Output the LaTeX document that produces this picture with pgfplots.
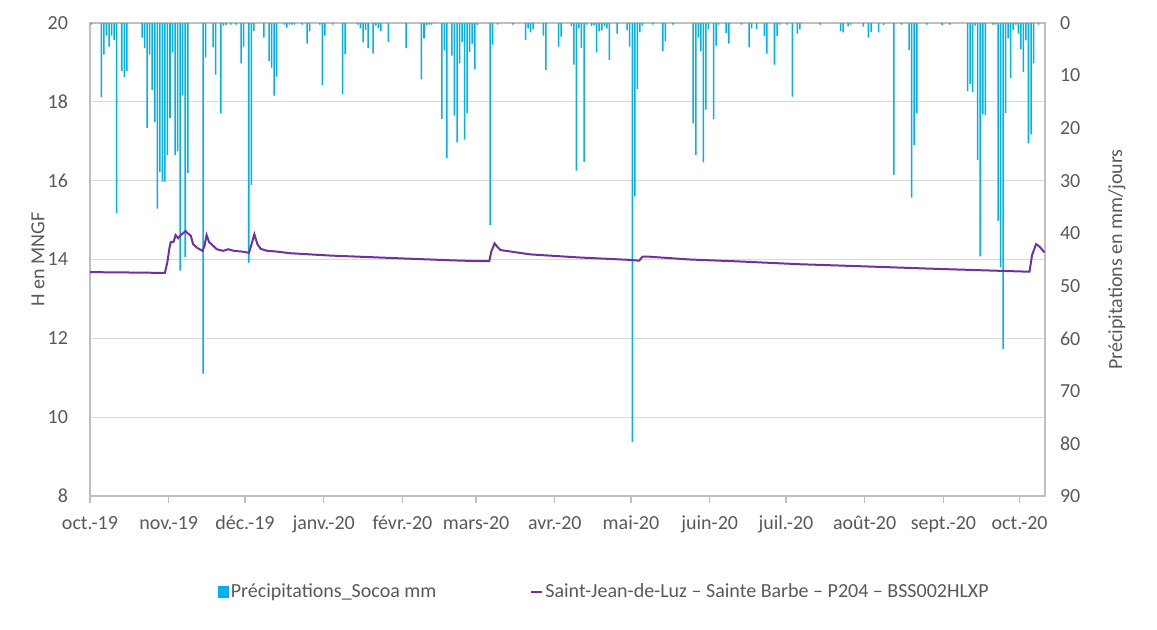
\documentclass[border=0pt]{standalone}
\usepackage{fontspec}
\setmainfont{Carlito}
\usepackage{pgfplots}
\usepackage{pgfplotstable}
\pgfplotsset{compat=1.18}
\definecolor{txt}{RGB}{89,89,89}
\definecolor{gridc}{RGB}{217,217,217}
\definecolor{axc}{RGB}{191,191,191}
\definecolor{barc}{RGB}{0,176,240}
\definecolor{linec}{RGB}{112,48,160}

\pgfplotstableread{
d p
0 0.3
4 14.1
5 6
6 2.4
7 4.5
8 2.4
9 3.2
10 36.2
12 9.1
13 10.3
14 9.1
20 2.8
21 4.8
22 20
23 6
24 12.7
25 18.8
26 35.3
27 28.3
28 30.2
29 30.2
30 25.1
31 18.1
32 5.6
33 25.1
34 24.4
35 47.1
36 13.7
37 44.5
38 28.5
44 66.7
45 6.6
48 4.6
49 9.8
51 17.2
52 0.5
53 0.4
55 0.3
57 0.3
59 7.7
60 4.5
62 45.6
63 30.8
64 1.5
68 2.8
70 7.2
71 8.5
72 13.8
73 10.2
76 0.3
77 0.9
78 0.3
79 0.3
80 0.3
83 0.3
85 3.9
86 1.6
90 0.3
91 11.8
92 2.4
95 0.3
99 13.6
100 5.9
105 0.3
106 1
107 3.7
108 1.3
109 4.8
111 5.8
112 0.5
113 1
114 1.6
117 3.6
124 4.8
130 10.7
131 2.9
132 0.4
133 0.3
134 0.3
138 18.3
139 5.2
140 25.7
142 6.2
143 17.6
144 22.7
145 7.7
146 3.6
147 22.2
148 17.2
149 5.5
150 3.9
151 8.8
152 0.4
157 38.4
158 4.1
160 0.3
166 0.3
171 3.2
172 1
173 1.8
174 1.2
178 2.4
179 8.9
184 4.5
185 2.6
189 0.6
190 7.9
191 28.1
192 1
193 4.8
194 26.4
195 0.3
197 0.6
198 0.4
199 5.6
200 1.6
201 1.4
202 0.6
203 1
204 7
207 2
211 1.4
212 4.5
213 79.7
214 33
215 12.6
216 1.8
217 0.5
221 0.3
225 5.3
226 3.5
229 0.3
237 19.1
238 25.1
239 2.8
240 5.3
241 26.5
242 16.5
243 1.2
245 18.3
246 4.3
247 0.3
250 1.9
251 3.9
256 0.3
259 4.6
260 1
262 1.2
265 2.5
266 5.8
269 7.9
270 2.5
271 0.3
274 0.3
276 14
278 2
279 1.2
287 0.3
295 1.5
296 1.8
298 0.6
299 0.3
304 0.7
306 2.8
307 1.7
310 1.8
312 0.4
316 28.9
319 0.3
322 5.1
323 33.2
324 23.2
325 17.2
329 0.3
335 0.4
338 0.3
345 12.9
346 11.6
347 13.2
348 0.5
349 26.1
350 44.4
351 17.4
352 17.5
355 0.3
356 0.3
357 37.6
358 46.5
359 62
360 17.1
361 2.9
362 10.5
363 1.3
364 0.3
365 2
366 5
367 9.3
368 3.3
369 22.9
370 21.2
371 7.7
373 0.3
}\precip

\pgfplotstableread{
d h
0 13.68
16 13.67
29.5 13.66
30.5 13.95
31.3 14.30
31.8 14.44
32.9 14.45
33.7 14.62
34.7 14.54
35.8 14.62
37.6 14.72
38.6 14.66
39.7 14.60
40.6 14.39
42.1 14.30
44.3 14.22
45.1 14.35
45.9 14.62
46.9 14.44
47.8 14.39
49.9 14.26
52.4 14.22
54.4 14.26
56.7 14.22
60.0 14.20
62.6 14.17
63.7 14.41
64.7 14.64
65.9 14.39
67.2 14.27
69.8 14.22
73.8 14.20
78.7 14.16
94.7 14.10
122 14.03
142 13.98
151.7 13.96
157.2 13.96
158 14.20
159.3 14.41
160.4 14.32
161.6 14.24
173.3 14.13
193 14.05
212.7 13.99
216.2 13.97
217.5 14.07
220.5 14.07
236.2 14.00
255.9 13.95
279.5 13.88
303 13.83
334.5 13.76
369.9 13.69
370.9 14.11
372.5 14.39
373.8 14.33
375.8 14.18
}\niveau

\begin{document}
\begin{tikzpicture}[font=\fontsize{10}{12}\selectfont, text=txt]
\path (-45pt,-66.5pt) rectangle (533.5pt,248pt);
% axis A: left scale, grid, x axis
\begin{axis}[
  scale only axis, width=477.5pt, height=236.5pt,
  xmin=0, xmax=376, ymin=8, ymax=20,
  ytick={8,10,...,20},
  xtick={0,31,61,92,123,152,183,213,244,274,305,336,366},
  xticklabels={oct.-19,nov.-19,déc.-19,janv.-20,févr.-20,mars-20,avr.-20,mai-20,juin-20,juil.-20,août-20,sept.-20,oct.-20},
  ymajorgrids, grid style={gridc, line width=0.6pt},
  axis line style={axc, line width=0.6pt},
  tick style={axc, line width=0.6pt},
  ytick style={draw=none},
  xtick pos=bottom, ytick pos=left,
  tick align=outside, major tick length=3.5pt,
  xticklabel style={text=txt, yshift=-3pt},
  yticklabel style={text=txt, xshift=-4pt},
  /pgf/number format/assume math mode=true,
  ylabel={H en MNGF},
  every axis y label/.style={at={(axis description cs:-0.0545,0.5)}, rotate=90, anchor=center, text=txt},
]
\end{axis}
% axis B: precipitation bars, reversed right axis
\begin{axis}[
  scale only axis, width=477.5pt, height=236.5pt,
  xmin=0, xmax=376, ymin=0, ymax=90, y dir=reverse,
  axis x line=none, axis y line*=right,
  ytick={0,10,...,90},
  axis line style={axc, line width=0.6pt},
  ytick style={draw=none},
  yticklabel style={text=txt, xshift=4pt},
  /pgf/number format/assume math mode=true,
  ylabel={Précipitations en mm/jours},
  every axis y label/.style={at={(axis description cs:1.0754,0.5)}, rotate=90, anchor=center, text=txt},
]
\addplot[ybar, bar width=0.6, fill=barc, draw=none] table[x expr=\thisrow{d}+0.5, y=p]{\precip};
\end{axis}
% axis C: water level line and legend
\begin{axis}[
  scale only axis, width=477.5pt, height=236.5pt,
  xmin=0, xmax=376, ymin=8, ymax=20,
  hide axis,
  legend columns=2,
  legend style={draw=none, fill=none, at={(0.134,-0.203)}, anchor=west, text=txt,
     inner sep=0pt, outer sep=0pt,
     nodes={inner sep=1pt},
     /tikz/every even column/.append style={column sep=46pt}},
]
\addlegendimage{legend image code/.code={\fill[barc] (0pt,-2.9pt) rectangle (5pt,2.9pt);}}
\addlegendentry{Précipitations\_Socoa mm}
\addplot[linec, line width=1pt, legend image code/.code={\draw[linec, line width=1pt] (0pt,0pt) -- (5.5pt,0pt);}] table[x=d, y=h]{\niveau};
\addlegendentry{Saint-Jean-de-Luz – Sainte Barbe – P204 – BSS002HLXP}
\end{axis}
\end{tikzpicture}
\end{document}
